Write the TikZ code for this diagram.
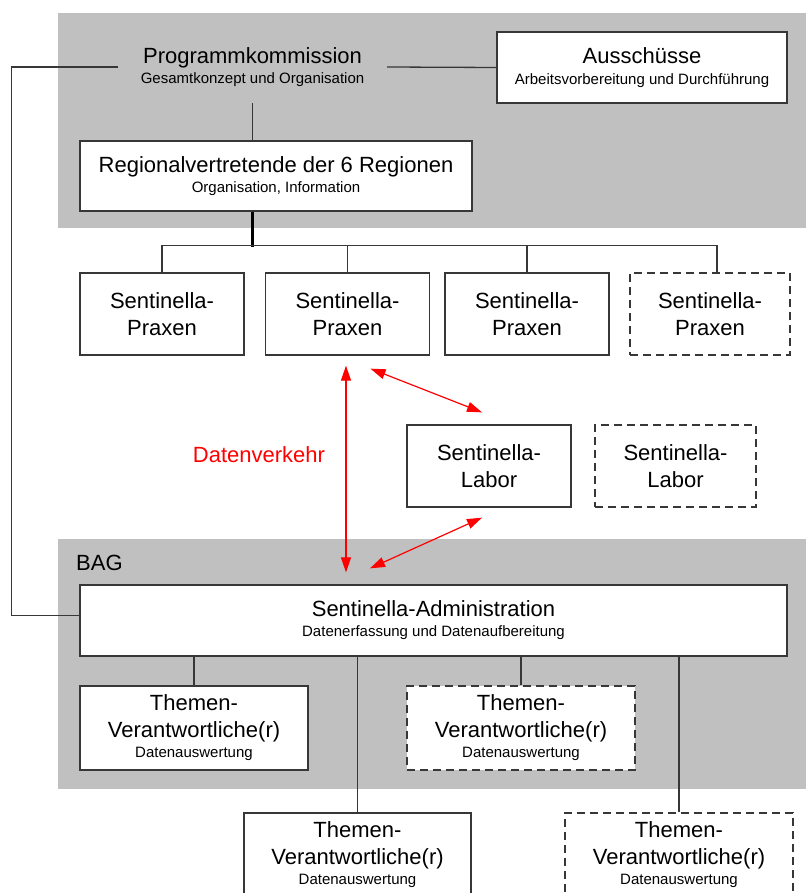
\documentclass[tikz,border=0pt]{standalone}
\usepackage{fontspec}
\setmainfont{Liberation Sans}
\usetikzlibrary{arrows.meta,calc}

\newcommand{\bigtxt}{\fontsize{22}{27}\selectfont}
\newcommand{\smltxt}{\fontsize{15}{18}\selectfont}

\definecolor{bandgray}{RGB}{192,192,192}
\definecolor{linegray}{RGB}{55,55,55}
\definecolor{datared}{RGB}{255,0,0}

\begin{document}
\begin{tikzpicture}[x=1pt, y=-1pt,
  box/.style={draw=linegray, line width=1.3pt, fill=white, align=center, inner sep=0pt, font=\bigtxt},
  dashbox/.style={box, dash pattern=on 8pt off 5pt},
  praxbox/.style={minimum width=164pt, minimum height=82pt},
  themenbox/.style={minimum width=228pt, minimum height=84pt},
  link/.style={draw=linegray, line width=1.3pt},
  datenfluss/.style={datared, line width=1.2pt,
    {Triangle[length=15pt,width=10pt]}-{Triangle[length=15pt,width=10pt]}}]

\useasboundingbox (0,0) rectangle (806,893);
\clip (0,0) rectangle (806,893);

\fill[bandgray] (58,13) rectangle (806,228);
\fill[bandgray] (58,539) rectangle (806,789);

\node[align=center, inner sep=0pt, minimum width=269pt, minimum height=72pt, font=\bigtxt] (progkomm) at (252.5,67)
  {Programmkommission\\[-7pt]{\smltxt Gesamtkonzept und Organisation}};
\node[box, minimum width=290pt, minimum height=71pt] (ausschuesse) at (642,67.5)
  {Ausschüsse\\[-6pt]{\smltxt Arbeitsvorbereitung und Durchführung}};
\node[box, minimum width=392pt, minimum height=70pt] (regional) at (276,176)
  {Regionalvertretende der 6 Regionen\\[-7pt]{\smltxt Organisation, Information}};

\node[box, praxbox] (prax1) at (162,314) {Sentinella-\\Praxen};
\node[box, praxbox] (prax2) at (347.5,314) {Sentinella-\\Praxen};
\node[box, praxbox] (prax3) at (527,314) {Sentinella-\\Praxen};
\node[dashbox, praxbox, minimum width=160pt] (prax4) at (710,314) {Sentinella-\\Praxen};

\node[box, praxbox] (lab1) at (489,466) {Sentinella-\\Labor};
\node[dashbox, praxbox, minimum width=161pt] (lab2) at (675.5,466) {Sentinella-\\Labor};

\node[text=datared, font=\bigtxt] (datenverkehr) at (259,455) {Datenverkehr};
\node[font=\bigtxt, anchor=west, inner sep=0pt] (bag) at (76,563) {BAG};

\node[box, minimum width=707pt, minimum height=71pt] (admin) at (433.5,620.5)
  {Sentinella-Administration\\[-7pt]{\smltxt Datenerfassung und Datenaufbereitung}};

\node[box, themenbox] (them1) at (194,728)
  {Themen-\\Verantwortliche(r)\\[-7pt]{\smltxt Datenauswertung}};
\node[dashbox, themenbox] (them2) at (521,728)
  {Themen-\\Verantwortliche(r)\\[-7pt]{\smltxt Datenauswertung}};
\node[box, themenbox, minimum width=227pt] (them3) at (357.5,855)
  {Themen-\\Verantwortliche(r)\\[-7pt]{\smltxt Datenauswertung}};
\node[dashbox, themenbox] (them4) at (679,855)
  {Themen-\\Verantwortliche(r)\\[-7pt]{\smltxt Datenauswertung}};

\draw[link] (progkomm.east) -- (ausschuesse.west);
\draw[link] (progkomm.west) -- ++(-106,0) |- ($(admin.west)+(0,-5)$);
\draw[link] (progkomm.south) -- (progkomm.south |- regional.north);
\draw[line width=2.2pt, black] (regional.south -| progkomm.south) -- ++(0,35);
\draw[link] (prax1.north) -- ++(0,-27) -| ($(prax4.north)+(7,0)$);
\draw[link] (prax2.north) -- ++(0,-27);
\draw[link] (prax3.north) -- ++(0,-27);

\draw[datenfluss] ($(prax2.south)+(-1.5,10)$) -- ($(prax2.south |- admin.north)+(-1.5,-12)$);
\draw[datenfluss] ($(prax2.south)+(23,13)$) -- ($(lab1.north)+(-7,-12)$);
\draw[datenfluss] ($(lab1.south)+(-7,10)$) -- ($(prax2.south |- admin.north)+(22.5,-16)$);

\draw[link] (admin.south -| them1.north) -- (them1.north);
\draw[link] (admin.south -| them2.north) -- (them2.north);
\draw[link] (admin.south -| them3.north) -- (them3.north);
\draw[link] (admin.south -| them4.north) -- (them4.north);
\end{tikzpicture}
\end{document}
